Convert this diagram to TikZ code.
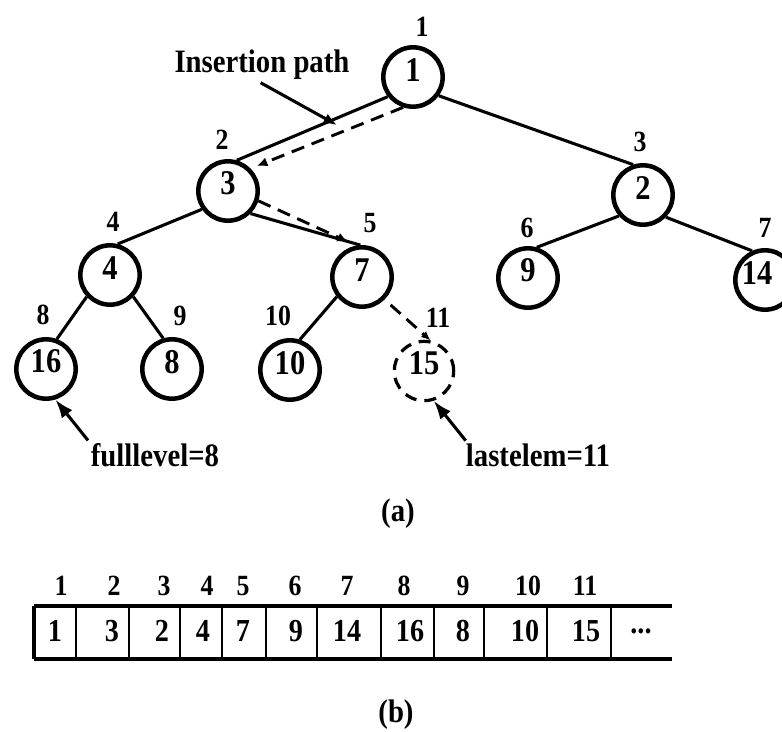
\documentclass[tikz,border=0pt]{standalone}
\usepackage{fontspec}
\setmainfont{Liberation Serif}[FakeStretch=0.88]
\usetikzlibrary{arrows.meta}
\begin{document}
\begin{tikzpicture}[x=0.75pt,y=-0.75pt,
  circ/.style={circle,draw,line width=3.4pt,minimum size=44.5pt,inner sep=0pt},
  dcirc/.style={circle,draw,line width=2.4pt,minimum size=44.5pt,inner sep=0pt,dash pattern=on 9pt off 6pt},
  vl/.style={font=\fontsize{26}{26}\selectfont\bfseries,yshift=5.5pt},
  idx/.style={font=\fontsize{22}{22}\selectfont\bfseries,inner sep=1pt},
  txt/.style={font=\fontsize{24.5}{24.5}\selectfont\bfseries,inner sep=2pt},
  aval/.style={font=\fontsize{24}{24}\selectfont\bfseries,inner sep=1pt},
  edge/.style={line width=2.3pt},
  dedge/.style={line width=2.2pt,dash pattern=on 10pt off 6pt},
  bigarrow/.style={line width=2.3pt,-{Latex[length=14pt,width=10pt]}},
  outer/.style={line width=3pt},
  divider/.style={line width=1.8pt}
]
\useasboundingbox (0,0) rectangle (782,732);

% tree nodes
\node[circ,label={[vl]center:1}]  (n1)  at (413,77)  {};
\node[circ,label={[vl]center:3}]  (n3)  at (228,191) {};
\node[circ,label={[vl]center:2}]  (n2)  at (643,195) {};
\node[circ,label={[vl]center:4}]  (n4)  at (110,275) {};
\node[circ,label={[vl]center:7}]  (n7)  at (362,277) {};
\node[circ,label={[vl]center:9}]  (n9)  at (528,278) {};
\node[circ,label={[vl,xshift=-6pt]center:14}] (n14) at (765,280) {};
\node[circ,label={[vl]center:16}] (n16) at (46,369)  {};
\node[circ,label={[vl]center:8}]  (n8)  at (172,369) {};
\node[circ,label={[vl]center:10}] (n10) at (290,370) {};
\node[dcirc,label={[vl]center:15}] (n15) at (424,371) {};

% index labels
\node[idx] (i1)  at (422,27)  {1};
\node[idx] (i2)  at (222,140) {2};
\node[idx] (i3)  at (640,142) {3};
\node[idx] (i4)  at (113,222) {4};
\node[idx] (i5)  at (370,223) {5};
\node[idx] (i6)  at (527,228) {6};
\node[idx] (i7)  at (765,228) {7};
\node[idx] (i8)  at (43,315)  {8};
\node[idx] (i9)  at (180,316) {9};
\node[idx] (i10) at (278,316) {10};
\node[idx] (i11) at (438,318) {11};

% edges
\draw[edge] (n1.218) -- (n3.74);
\draw[edge] (n1.-36) -- (n2.108);
\draw[edge] (n3.215) -- (n4.76);
\draw[edge] (n3.-45) -- (n7.93);
\draw[edge] (n4.223) -- (n16.70);
\draw[edge] (n4.-43) -- (n8.106);
\draw[edge] (n7.218) -- (n10.72);
\draw[edge] (n2.221) -- (n9.74);
\draw[edge] (n2.-44) -- (n14.114);

% insertion path (dashed)
\draw[dedge,-{Latex[length=8pt,width=7pt]},shorten >=5pt] (n1.252) -- (n3.45);
\draw[dedge,-{Latex[length=8pt,width=7pt]},shorten >=7pt] (n3.-18) -- (n7.100);
\draw[dedge,-{Latex[length=7pt,width=6pt]},shorten <=6pt] (n7.-45) -- (n15.78);

% annotations
\node[txt] (ins) at (262,65) {Insertion path};
\coordinate (insTip) at (337,125);
\draw[line width=2.3pt,-{Latex[length=10pt,width=8pt]}] ([xshift=-1pt]ins.south) -- (insTip);

\node[txt] (fl) at (155,455) {fulllevel=8};
\draw[bigarrow] (fl.north west) -- (n16.-73);

\node[txt] (le) at (538,455) {lastelem=11};
\draw[bigarrow] ([xshift=2pt]le.north west) -- (n15.-72);

\node[txt] (capa) at (398,514) {(a)};

% array
\draw[outer] (34,606) -- (672,606);
\draw[outer] (34,659) -- (672,659);
\draw[outer] (34,606) -- (34,659);
\foreach \x in {76,129,180,222,266,317,381,434,484,547,611}
  \draw[divider] (\x,606) -- (\x,659);

\node[aval] (v1)  at (55,631)  {1};
\node[aval] (v2)  at (112,631) {3};
\node[aval] (v3)  at (162,631) {2};
\node[aval] (v4)  at (203,631) {4};
\node[aval] (v5)  at (243,631) {7};
\node[aval] (v6)  at (296,631) {9};
\node[aval] (v7)  at (347,631) {14};
\node[aval] (v8)  at (410,631) {16};
\node[aval] (v9)  at (463,631) {8};
\node[aval] (v10) at (525,631) {10};
\node[aval] (v11) at (586,631) {15};
\node[aval] (v12) at (641,631) {...};

\node[idx] (a1)  at (61,586)  {1};
\node[idx] (a2)  at (114,586) {2};
\node[idx] (a3)  at (164,586) {3};
\node[idx] (a4)  at (207,586) {4};
\node[idx] (a5)  at (243,586) {5};
\node[idx] (a6)  at (295,586) {6};
\node[idx] (a7)  at (347,586) {7};
\node[idx] (a8)  at (404,586) {8};
\node[idx] (a9)  at (463,586) {9};
\node[idx] (a10) at (528,586) {10};
\node[idx] (a11) at (585,586) {11};

\node[txt] (capb) at (396,715) {(b)};
\end{tikzpicture}
\end{document}
